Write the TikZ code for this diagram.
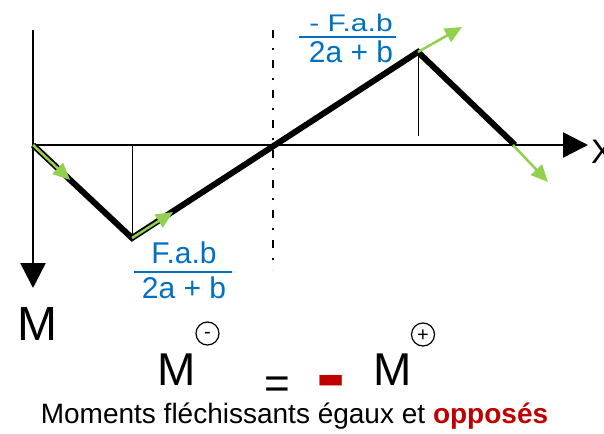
\documentclass[tikz,border=0pt]{standalone}
\usepackage{fontspec}
\setmainfont{Liberation Sans}
\usetikzlibrary{arrows.meta}
\definecolor{fblue}{RGB}{0,112,192}
\definecolor{fgreen}{RGB}{146,208,80}
\definecolor{fred}{RGB}{192,0,0}
\begin{document}
\begin{tikzpicture}[x=1pt,y=-1pt,
 axis/.style={line width=2.5pt, -{Triangle[length=25pt,width=25pt]}},
 moment/.style={line width=6pt, line join=miter},
 thinline/.style={line width=1pt},
 garrow/.style={fgreen, line width=2.5pt, -{Triangle[length=17pt,width=15pt]}},
 fracbar/.style={fblue, line width=2pt},
 frac/.style={fblue, inner sep=0, anchor=base, font=\fontsize{30}{30}\selectfont},
 bigM/.style={inner sep=0, anchor=base, font=\fontsize{46}{46}\selectfont},
 sign/.style={circle, draw, line width=1.2pt, minimum size=23pt, inner sep=0, font=\fontsize{20}{20}\selectfont}]
\clip (0,0) rectangle (604,433);
% points
\coordinate (O) at (33,145);
\coordinate (Mtop) at (33,30);
\coordinate (Mtip) at (33,288);
\coordinate (Xtip) at (588,145);
\coordinate (P1) at (132,238);
\coordinate (P2) at (418,52);
\coordinate (P3) at (515,145);
\coordinate (P3g) at (513,145);
\coordinate (F1) at (132,145);
\coordinate (F2) at (418,136);
\coordinate (C1) at (273,30);
\coordinate (C2) at (273,270);
\coordinate (G1) at (70,180);
\coordinate (G2) at (173,212);
\coordinate (G3) at (462,27);
\coordinate (G4) at (548,182);
% axes
\draw[axis] (Mtop) -- (Mtip);
\draw[axis] (O) -- (Xtip);
\draw[line width=2pt, dash pattern=on 8pt off 10pt on 2pt off 10pt] (C1) -- (C2);
% thin verticals
\draw[thinline] (F1) -- (P1);
\draw[thinline] (F2) -- (P2);
% moment diagram
\draw[moment] (O) -- (P1) -- (P2) -- (P3);
% green arrows
\draw[garrow] (O) -- (G1);
\draw[garrow] (P1) -- (G2);
\draw[garrow] (P2) -- (G3);
\draw[garrow] (P3g) -- (G4);
% fractions
\node[frac] (n1) at (184,263) {F.a.b};
\coordinate (b1l) at (134,272);
\coordinate (b1r) at (232,272);
\draw[fracbar] (b1l) -- (b1r);
\node[frac] (d1) at (184,298) {2a + b};
\node[frac] (n2) at (351,31.5) {\scalebox{1}[0.8]{- F.a.b}};
\coordinate (b2l) at (299,37);
\coordinate (b2r) at (396,37);
\draw[fracbar] (b2l) -- (b2r);
\node[frac] (d2) at (351,63) {2a + b};
% labels
\node[inner sep=0, anchor=base west, font=\fontsize{34}{34}\selectfont] (X) at (591,163) {X};
\node[inner sep=0, anchor=base, font=\fontsize{48}{48}\selectfont] (Mlab) at (37.5,340) {M};
\node[bigM] (Mneg) at (177,385) {M};
\node[sign] (sneg) at (207.5,333.5) {\smash{\raisebox{-5.4pt}{-}}};
\node[bigM] (Mpos) at (392.5,385) {M};
\node[sign] (spos) at (423,334.5) {\smash{\raisebox{-7pt}{+}}};
\node[inner sep=0, anchor=base, font=\fontsize{44}{44}\selectfont] (eq) at (277.5,398) {=};
\node[fred, inner sep=0, anchor=base, font=\fontsize{88}{88}\selectfont\bfseries] (minus) at (331,403) {-};
\node[inner sep=0, anchor=base, font=\fontsize{28}{28}\selectfont] (cap) at (294.5,423) {Moments fléchissants égaux et \textcolor{fred}{\textbf{opposés}}};
\end{tikzpicture}
\end{document}
